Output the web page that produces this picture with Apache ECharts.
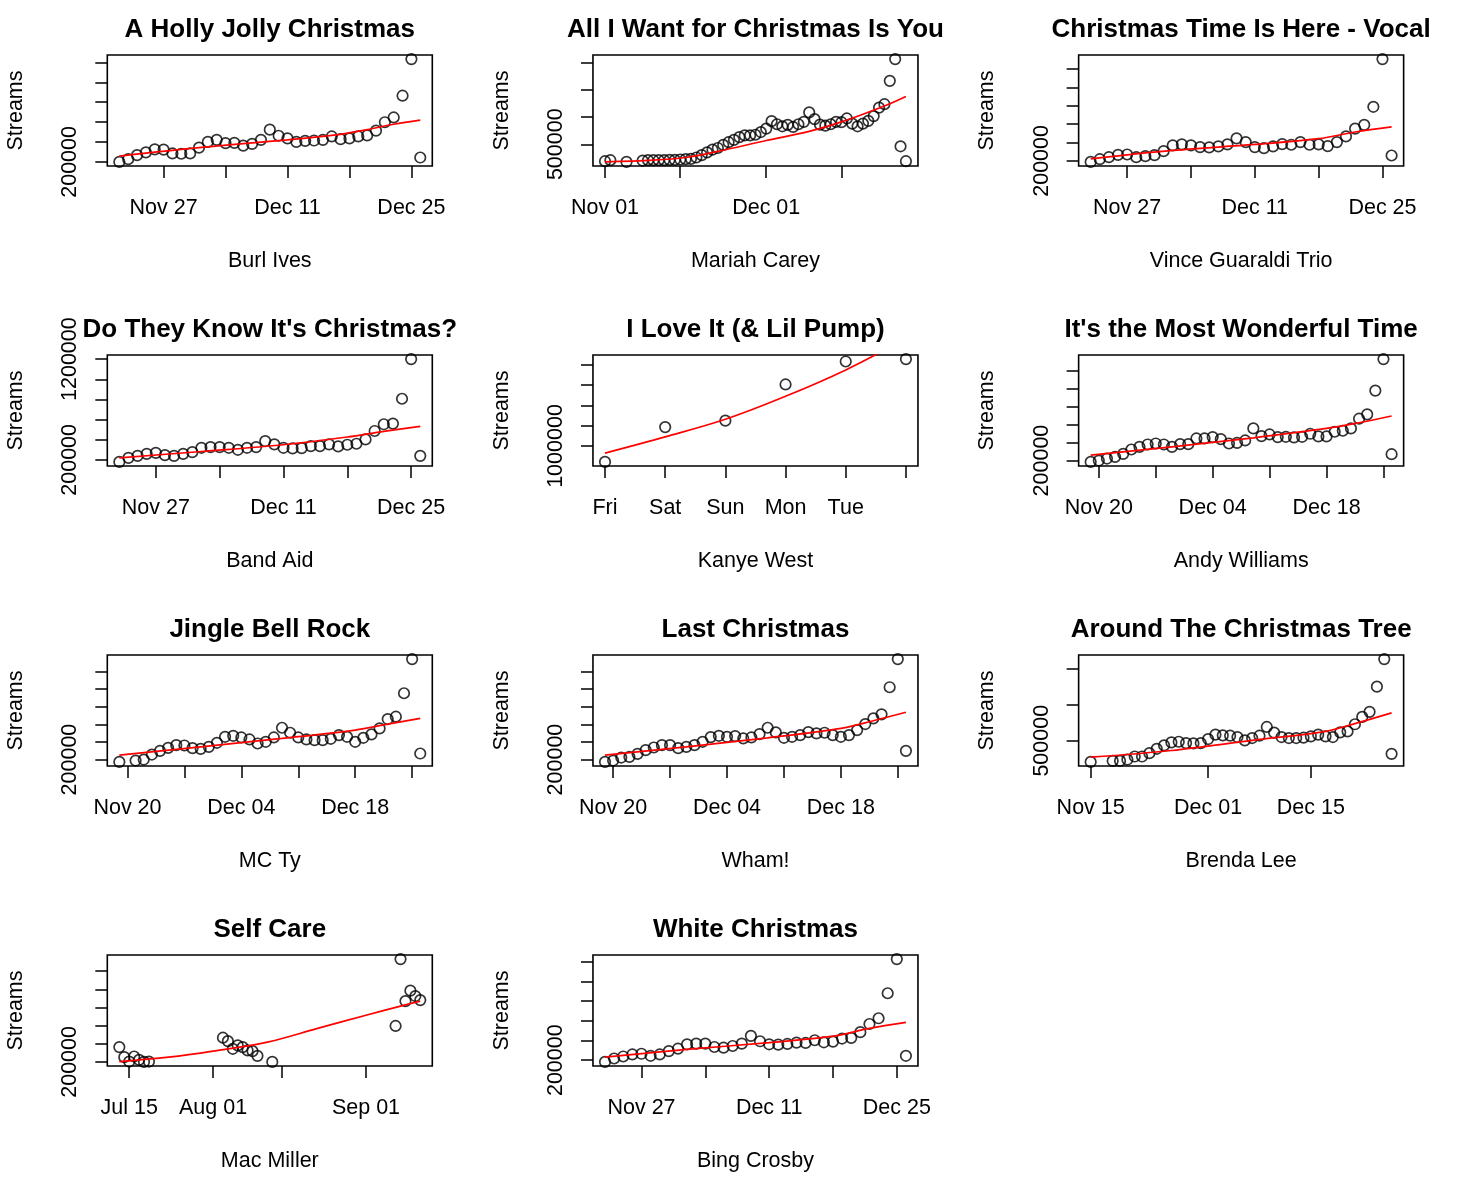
<!DOCTYPE html>
<html><head><meta charset="utf-8">
<script src="https://cdn.jsdelivr.net/npm/echarts@6/dist/echarts.min.js"></script>
<style>html,body{margin:0;padding:0;background:#fff}#c{width:1457px;height:1189px}</style>
</head><body><div id="c"></div>
<script>
// ---------- data (streams per day) ----------
const hollyStart = '2017-11-22';
const hollyStreams = [200000,227000,268000,296000,326000,323000,285000,282000,285000,343000,401000,422000,388000,391000,364000,381000,422000,524000,463000,436000,401000,412000,415000,422000,456000,429000,436000,456000,466000,514000,599000,647000,866000,1234000,244000];
const hollyFitDays = [0,9,19,24,28,31,34];
const hollyFitVals = [258000,343000,422000,466000,524000,579000,620000];

const mariahStart = '2017-11-01';
const mariahDays = [0,1,4,7,8,9,10,11,12,13,14,15,16,17,18,19,20,21,22,23,24,25,26,27,28,29,30,31,32,33,34,35,36,37,38,39,40,41,42,43,44,45,46,47,48,49,50,51,52,53,54,55,56];
const mariahStreams = [188700,207300,176200,201100,207300,207300,207300,207300,213600,213600,219800,226000,232200,257100,300700,350500,400300,431500,487500,537400,581000,630800,661900,661900,674400,724200,786400,923400,867400,830000,854900,817600,867400,911000,1085300,960800,861200,842500,867400,911000,904800,973300,879800,830000,879800,929700,1016800,1172500,1234800,1664400,2063000,462600,188700];
const mariahFitDays = [0,9,15,21,30,38,44,52,56];
const mariahFitVals = [176200,207300,257100,369200,568500,736600,911000,1203700,1378000];

const vinceStart = '2017-11-23';
const vinceStreams = [194500,209200,220100,233000,234800,220100,225600,231100,253100,284200,289700,284200,275100,273300,278800,289700,322700,302600,275100,269600,278800,291600,287900,302600,287900,289700,280600,302600,333700,375800,396000,494900,754900,229300];
const vinceFitDays = [0,9,18,25,29,33];
const vinceFitVals = [211000,256800,289700,320900,357500,385000];

const bandStart = '2017-11-23';
const bandStreams = [180000,220000,240000,260000,270000,246700,240000,260000,276700,320000,326700,326700,320000,300000,320000,326700,386700,353300,320000,313300,316700,336700,336700,353300,333300,350000,360000,403300,486700,553300,560000,806700,1200000,240000];
const bandFitDays = [0,9,18,25,29,33];
const bandFitVals = [220000,283300,350000,426700,483300,533300];

const kanyeStart = '2018-09-07';
const kanyeStreams = [843300,1186700,1250000,1606700,1833300,1856700];
const kanyeFitDays = [0,1,2,3,4,5];
const kanyeFitVals = [930000,1090000,1263300,1490000,1750000,2060000];

const andyStart = '2017-11-19';
const andyStreams = [185100,200000,222400,241000,274600,323100,353000,379100,390300,379100,353000,382800,382800,446200,446200,461200,438800,390300,397700,423900,558200,472400,491000,461200,464900,457400,464900,498500,468600,468600,520900,532100,558200,666400,714900,979800,1330500,270900];
const andyFitDays = [0,10,20,29,33,37];
const andyFitVals = [259700,353000,453700,558200,621600,696200];

const jbrStart = '2017-11-19';
const jbrDays = [0,2,3,4,5,6,7,8,9,10,11,12,13,14,15,16,17,18,19,20,21,22,23,24,25,26,27,28,29,30,31,32,33,34,35,36,37];
const jbrStreams = [173400,188600,200000,257000,298900,333100,363500,359700,329300,321700,344500,390100,458500,469900,450900,428100,382500,401500,450900,561200,504200,450900,428100,420500,420500,435700,477500,458500,401500,447100,485200,553600,660000,686700,952800,1340600,268400];
const jbrFitDays = [0,10,20,29,33,37];
const jbrFitVals = [249400,344500,439500,534600,603000,667600];

const whamStart = '2017-11-19';
const whamStreams = [173400,188600,222800,230400,264600,306500,336900,363500,363500,329300,344500,363500,401500,454700,469900,458500,466100,439500,450900,489000,561200,508000,447100,458500,477500,511800,496600,504200,477500,458500,477500,534600,603000,667600,713300,1021200,1340600,298900];
const whamFitDays = [0,10,20,29,33,37];
const whamFitVals = [249400,344500,447100,553600,641000,736700];

const brendaStart = '2017-11-15';
const brendaDays = [0,3,4,5,6,7,8,9,10,11,12,13,14,15,16,17,18,19,20,21,22,23,24,25,26,27,28,29,30,31,32,33,34,35,36,37,38,39,40,41];
const brendaStreams = [204200,218300,218300,237100,279300,279300,326300,387300,434300,476500,485900,467100,462400,467100,523500,584500,575100,570400,551600,504700,537600,570400,692500,612700,551600,537600,537600,542300,561000,584500,561000,551600,617400,631500,730100,833300,903800,1255900,1640900,316900];
const brendaFitDays = [0,11,22,32,36,41];
const brendaFitVals = [269900,363800,504700,631500,739400,889700];

const macStart = '2018-07-13';
const macDays = [0,1,2,3,4,5,6,21,22,23,24,25,26,27,28,31,56,57,58,59,60,61];
const macStreams = [363000,251900,203700,259300,222200,200000,203700,466700,429600,344500,381500,363000,325900,318500,266700,200000,596300,1333400,870400,985200,926000,881500];
const macFitDays = [0,10,19,30,40,50,57,61];
const macFitVals = [203700,251900,318500,418500,566700,714900,814900,870400];

const bingStart = '2017-11-23';
const bingStreams = [182800,217200,237800,258400,265300,244700,258400,292800,316800,361500,368400,368400,334000,327100,344300,368400,447400,392400,361500,358100,364900,378700,375200,402700,382100,389000,419900,426800,485200,567700,626100,880300,1227400,244700];
const bingFitDays = [0,9,18,25,29,33];
const bingFitVals = [230900,310000,378700,444000,523000,584800];

// ---------- tick labels ----------
const ticksLateDec = ['2017-11-27','2017-12-04','2017-12-11','2017-12-18','2017-12-25'];
const labelsLateDec = ['2017-11-27','2017-12-11','2017-12-25'];
const ticksMariah = ['2017-11-01','2017-11-15','2017-12-01','2017-12-15'];
const labelsMariah = ['2017-11-01','2017-12-01'];
const ticksKanye = ['2018-09-07','2018-09-08','2018-09-09','2018-09-10','2018-09-11','2018-09-12'];
const labelsKanye = ['2018-09-07','2018-09-08','2018-09-09','2018-09-10','2018-09-11'];
const ticksNov20 = ['2017-11-20','2017-11-27','2017-12-04','2017-12-11','2017-12-18','2017-12-25'];
const labelsNov20 = ['2017-11-20','2017-12-04','2017-12-18'];
const ticksBrenda = ['2017-11-15','2017-12-01','2017-12-15'];
const labelsBrenda = ['2017-11-15','2017-12-01','2017-12-15'];
const ticksMac = ['2018-07-15','2018-08-01','2018-08-15','2018-09-01'];
const labelsMac = ['2018-07-15','2018-08-01','2018-09-01'];

const yTicks200k = [200000,400000,600000,800000,1000000,1200000];
const yTicks100k = [200000,300000,400000,500000,600000,700000];
const yTicksMariah = [500000,1000000,1500000,2000000];
const yTicksKanye = [1000000,1200000,1400000,1600000,1800000];
const yTicksBrenda = [500000,1000000,1500000];

const titles = ['A Holly Jolly Christmas','All I Want for Christmas Is You','Christmas Time Is Here - Vocal',"Do They Know It's Christmas?",'I Love It (& Lil Pump)','It\'s the Most Wonderful Time','Jingle Bell Rock','Last Christmas','Around The Christmas Tree','Self Care','White Christmas'];
const artists = ['Burl Ives','Mariah Carey','Vince Guaraldi Trio','Band Aid','Kanye West','Andy Williams','MC Ty','Wham!','Brenda Lee','Mac Miller','Bing Crosby'];

// ---------- build ----------
const panels = [
 {start:hollyStart, days:null, v:hollyStreams, fd:hollyFitDays, fv:hollyFitVals, xt:ticksLateDec, xl:labelsLateDec, yt:yTicks200k, yl:[200000], mode:'md'},
 {start:mariahStart, days:mariahDays, v:mariahStreams, fd:mariahFitDays, fv:mariahFitVals, xt:ticksMariah, xl:labelsMariah, yt:yTicksMariah, yl:[500000], mode:'md'},
 {start:vinceStart, days:null, v:vinceStreams, fd:vinceFitDays, fv:vinceFitVals, xt:ticksLateDec, xl:labelsLateDec, yt:yTicks100k, yl:[200000], mode:'md'},
 {start:bandStart, days:null, v:bandStreams, fd:bandFitDays, fv:bandFitVals, xt:ticksLateDec, xl:labelsLateDec, yt:yTicks200k, yl:[200000,1200000], mode:'md'},
 {start:kanyeStart, days:null, v:kanyeStreams, fd:kanyeFitDays, fv:kanyeFitVals, xt:ticksKanye, xl:labelsKanye, yt:yTicksKanye, yl:[1000000], mode:'wd'},
 {start:andyStart, days:null, v:andyStreams, fd:andyFitDays, fv:andyFitVals, xt:ticksNov20, xl:labelsNov20, yt:yTicks200k, yl:[200000], mode:'md'},
 {start:jbrStart, days:jbrDays, v:jbrStreams, fd:jbrFitDays, fv:jbrFitVals, xt:ticksNov20, xl:labelsNov20, yt:yTicks200k, yl:[200000], mode:'md'},
 {start:whamStart, days:null, v:whamStreams, fd:whamFitDays, fv:whamFitVals, xt:ticksNov20, xl:labelsNov20, yt:yTicks200k, yl:[200000], mode:'md'},
 {start:brendaStart, days:brendaDays, v:brendaStreams, fd:brendaFitDays, fv:brendaFitVals, xt:ticksBrenda, xl:labelsBrenda, yt:yTicksBrenda, yl:[500000], mode:'md'},
 {start:macStart, days:macDays, v:macStreams, fd:macFitDays, fv:macFitVals, xt:ticksMac, xl:labelsMac, yt:yTicks200k, yl:[200000], mode:'md'},
 {start:bingStart, days:null, v:bingStreams, fd:bingFitDays, fv:bingFitVals, xt:ticksLateDec, xl:labelsLateDec, yt:yTicks200k, yl:[200000], mode:'md'}
];

const DAY = 864e5;
function dnum(s){const a=s.split('-').map(Number);return Date.UTC(a[0],a[1]-1,a[2])/DAY;}
const MON=['Jan','Feb','Mar','Apr','May','Jun','Jul','Aug','Sep','Oct','Nov','Dec'];
const WD=['Sun','Mon','Tue','Wed','Thu','Fri','Sat'];
function fmt(n,mode){const dt=new Date(Math.round(n)*DAY);if(mode==='wd')return WD[dt.getUTCDay()];return MON[dt.getUTCMonth()]+' '+String(dt.getUTCDate()).padStart(2,'0');}

const FONT = '"Liberation Sans", Arial, Helvetica, sans-serif';
const COLW = 1457/3, ROWH = 300, BL = 107.3, BT = 55, BW = 325, BH = 111;
const grid=[], xAxis=[], yAxis=[], series=[], graphic=[];
const tickStyle = {color:'#000', width:1.5};

panels.forEach((p,i)=>{
  const r=Math.floor(i/3), c=i%3;
  const x0=dnum(p.start);
  const xs=p.days? p.days.map(d=>x0+d) : p.v.map((_,k)=>x0+k);
  const pts=xs.map((x,k)=>[x,p.v[k]]);
  const xmin=Math.min(...xs), xmax=Math.max(...xs);
  const ymin=Math.min(...p.v), ymax=Math.max(...p.v);
  const dx=(xmax-xmin)*0.04, dy=(ymax-ymin)*0.04;
  const L=c*COLW+BL, T=r*ROWH+BT;
  grid.push({left:L, top:T, width:BW, height:BH, show:true, borderColor:'#000', borderWidth:1.6, backgroundColor:'rgba(0,0,0,0)', containLabel:false, outerBoundsMode:'none'});
  xAxis.push({type:'value', gridIndex:i, min:xmin-dx, max:xmax+dx,
    axisLine:{show:false}, splitLine:{show:false},
    axisTick:{show:true, length:12, lineStyle:tickStyle, customValues:p.xt.map(dnum)},
    axisLabel:{show:true, customValues:p.xl.map(dnum), formatter:(v)=>fmt(v,p.mode), color:'#000', fontSize:21.5, fontFamily:FONT, margin:31.5}});
  yAxis.push({type:'value', gridIndex:i, min:ymin-dy, max:ymax+dy,
    axisLine:{show:false}, splitLine:{show:false},
    axisTick:{show:true, length:12, lineStyle:tickStyle, customValues:p.yt},
    axisLabel:{show:true, customValues:p.yl, rotate:90, formatter:(v)=>String(v), color:'#000', fontSize:21.5, fontFamily:FONT, margin:26}});
  series.push({type:'scatter', xAxisIndex:i, yAxisIndex:i, data:pts, symbol:'circle', symbolSize:10.5, silent:true, z:2,
    itemStyle:{color:'rgba(0,0,0,0)', borderColor:'#000', borderWidth:1.7}});
  series.push({type:'line', xAxisIndex:i, yAxisIndex:i, data:p.fd.map((d,k)=>[x0+d,p.fv[k]]), smooth:0.35, showSymbol:false, silent:true, z:3, clip:true,
    lineStyle:{color:'#ff0000', width:1.7}});
  const cx=L+BW/2;
  graphic.push({type:'text', x:cx, y:r*ROWH+30, style:{text:titles[i], font:'bold 26px '+FONT, fill:'#000', align:'center', verticalAlign:'middle', textAlign:'center', textVerticalAlign:'middle'}});
  graphic.push({type:'text', x:cx, y:r*ROWH+261, style:{text:artists[i], font:'21.5px '+FONT, fill:'#000', align:'center', verticalAlign:'middle', textAlign:'center', textVerticalAlign:'middle'}});
  graphic.push({type:'text', x:c*COLW+16, y:T+BH/2, rotation:Math.PI/2, style:{text:'Streams', font:'21.5px '+FONT, fill:'#000', align:'center', verticalAlign:'middle', textAlign:'center', textVerticalAlign:'middle'}});
});

const chart = echarts.init(document.getElementById('c'), null, {renderer:'canvas'});
chart.setOption({animation:false, backgroundColor:'#fff', grid, xAxis, yAxis, series, graphic});
</script></body></html>
